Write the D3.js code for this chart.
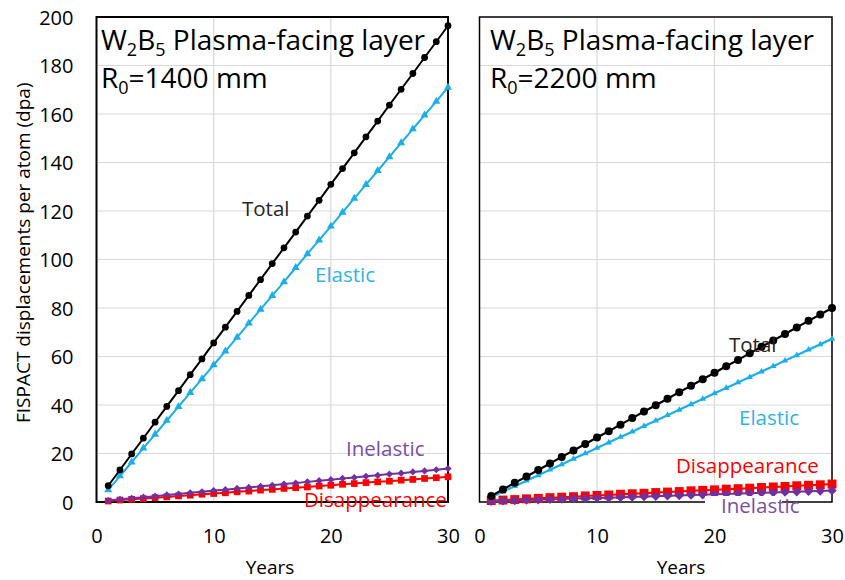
<!DOCTYPE html>
<html>
<head>
<meta charset="utf-8">
<script src="https://cdn.jsdelivr.net/npm/d3@7"></script>
<style>
  html, body { margin: 0; padding: 0; background: #fff; }
  svg { display: block; font-family: "Open Sans", "Noto Sans", sans-serif; }
</style>
</head>
<body>
<svg id="chart" width="845" height="580"></svg>
<script>
// Irradiation years
const years = [1,2,3,4,5,6,7,8,9,10,11,12,13,14,15,16,17,18,19,20,21,22,23,24,25,26,27,28,29,30];

// R0 = 1400 mm, dpa per component
const total1400 = [6.7,13.2,19.8,26.3,32.9,39.4,45.9,52.5,59.0,65.6,72.1,78.6,85.2,91.7,98.3,104.8,111.3,117.9,124.4,131.0,137.5,144.0,150.6,157.1,163.7,170.2,176.7,183.3,189.8,196.4];
const elastic1400 = [5.0,10.7,16.4,22.2,27.9,33.6,39.3,45.1,50.8,56.5,62.2,67.9,73.7,79.4,85.1,90.8,96.6,102.3,108.0,113.7,119.4,125.2,130.9,136.6,142.3,148.1,153.8,159.5,165.2,171.0];
const inelastic1400 = [0.6,1.1,1.5,2.0,2.4,2.9,3.3,3.8,4.2,4.7,5.1,5.6,6.0,6.5,6.9,7.4,7.8,8.3,8.8,9.2,9.7,10.1,10.6,11.0,11.5,11.9,12.4,12.8,13.3,13.8];
const disap1400 = [0.4,0.8,1.1,1.4,1.8,2.1,2.5,2.8,3.2,3.5,3.8,4.2,4.5,4.9,5.2,5.6,5.9,6.2,6.6,6.9,7.3,7.6,8.0,8.3,8.6,9.0,9.3,9.7,10.0,10.4];

// R0 = 2200 mm, dpa per component
const total2200 = [2.5,5.2,7.9,10.5,13.2,15.9,18.6,21.2,23.9,26.6,29.2,31.9,34.6,37.3,39.9,42.6,45.3,47.9,50.6,53.3,56.0,58.6,61.3,64.0,66.6,69.3,72.0,74.7,77.3,80.0];
const elastic2200 = [2.0,4.3,6.5,8.8,11.0,13.3,15.5,17.8,20.0,22.3,24.5,26.8,29.0,31.3,33.5,35.8,38.0,40.3,42.5,44.8,47.0,49.3,51.5,53.8,56.0,58.3,60.5,62.8,65.0,67.3];
const inelastic2200 = [0.3,0.5,0.6,0.8,0.9,1.1,1.2,1.4,1.5,1.7,1.8,2.0,2.1,2.3,2.4,2.6,2.7,2.9,3.0,3.2,3.3,3.5,3.6,3.8,3.9,4.1,4.2,4.4,4.5,4.7];
const disap2200 = [0.6,0.8,1.0,1.3,1.5,1.8,2.0,2.2,2.5,2.7,2.9,3.2,3.4,3.6,3.9,4.1,4.3,4.6,4.8,5.0,5.3,5.5,5.7,6.0,6.2,6.4,6.7,6.9,7.1,7.4];

// Axis ticks
const xTicks = [0,10,20,30];
const yTicks = [0,20,40,60,80,100,120,140,160,180,200];

const svg = d3.select("#chart");
const y = d3.scaleLinear().domain([0, 200]).range([502, 17]);

const C = { total: "#000000", elastic: "#1aaeea", inelastic: "#7030a0", disap: "#ff0000" };

function panel(cfg) {
  const x = d3.scaleLinear().domain([0, 30]).range([cfg.x0, cfg.x1]);
  const g = svg.append("g");

  // gridlines
  g.append("g").selectAll("line").data(yTicks.filter(d => d > 0 && d < 200)).join("line")
    .attr("x1", cfg.x0).attr("x2", cfg.x1).attr("y1", d => y(d)).attr("y2", d => y(d))
    .attr("stroke", "#d9d9d9").attr("stroke-width", 1.2);
  g.append("g").selectAll("line").data(xTicks.filter(d => d > 0 && d < 30)).join("line")
    .attr("y1", y(0)).attr("y2", y(200)).attr("x1", d => x(d)).attr("x2", d => x(d))
    .attr("stroke", "#d9d9d9").attr("stroke-width", 1.2);

  // frame
  g.append("rect").attr("x", cfg.x0).attr("y", y(200))
    .attr("width", cfg.x1 - cfg.x0).attr("height", y(0) - y(200))
    .attr("fill", "none").attr("stroke", "#000").attr("stroke-width", cfg.frame);

  // x axis tick labels
  const xa = d3.axisBottom(x).tickValues(xTicks).tickSize(0).tickPadding(0);
  const xg = g.append("g").attr("transform", `translate(0,${y(0)})`).call(xa);
  xg.select(".domain").remove();
  xg.selectAll("text").attr("dy", null).attr("y", 41)
    .attr("font-size", 20).attr("fill", "#000").attr("font-family", "Open Sans");

  if (cfg.yLabels) {
    const ya = d3.axisLeft(y).tickValues(yTicks).tickSize(0).tickPadding(0);
    const yg = g.append("g").attr("transform", `translate(${cfg.x0 - 23},0)`).call(ya);
    yg.select(".domain").remove();
    yg.selectAll("text").attr("x", 0).attr("dy", "0.36em")
      .attr("font-size", 20).attr("fill", "#000").attr("font-family", "Open Sans");
  }

  const series = [
    { v: cfg.disap, c: C.disap, sym: d3.symbolSquare, size: cfg.sq, rot: 0, w: 2 },
    { v: cfg.inelastic, c: C.inelastic, sym: d3.symbolSquare, size: cfg.dia, rot: 45, w: 2 },
    { v: cfg.elastic, c: C.elastic, sym: d3.symbolTriangle, size: cfg.tri, rot: 0, w: cfg.lw },
    { v: cfg.total, c: C.total, sym: d3.symbolCircle, size: cfg.circ, rot: 0, w: cfg.lw }
  ];
  const line = d3.line().x((d, i) => x(years[i])).y(d => y(d));
  series.forEach(s => {
    g.append("path").datum(s.v).attr("d", line)
      .attr("fill", "none").attr("stroke", s.c).attr("stroke-width", s.w);
    g.append("g").selectAll("path").data(s.v).join("path")
      .attr("d", d3.symbol().type(s.sym).size(s.size))
      .attr("transform", (d, i) => `translate(${x(years[i])},${y(d)}) rotate(${s.rot})`)
      .attr("fill", s.c);
  });

  // title
  const t = g.append("text").attr("x", cfg.tx).attr("y", 50).attr("font-size", 28).attr("fill", "#000");
  t.append("tspan").text("W");
  t.append("tspan").text("2").attr("font-size", 18).attr("dy", 6);
  t.append("tspan").text("B").attr("dy", -6);
  t.append("tspan").text("5").attr("font-size", 18).attr("dy", 6);
  t.append("tspan").text(" Plasma-facing layer").attr("dy", -6);
  const r = g.append("text").attr("x", cfg.tx).attr("y", 88).attr("font-size", 28).attr("fill", "#000");
  r.append("tspan").text("R");
  r.append("tspan").text("0").attr("font-size", 18).attr("dy", 6);
  r.append("tspan").text(cfg.r0).attr("dy", -6);

  // x axis title
  g.append("text").attr("x", cfg.yearsX).attr("y", 574).attr("text-anchor", "middle")
    .attr("font-size", 19).attr("fill", "#000").text("Years");

  // series labels
  (cfg.bg || []).forEach(b => {
    g.append("rect").attr("x", b[0]).attr("y", b[1]).attr("width", b[2]).attr("height", b[3]).attr("fill", "#fff");
  });
  cfg.labels.forEach(l => {
    g.append("text").attr("x", l.x).attr("y", l.y).attr("font-size", 20.5)
      .attr("fill", l.c).text(l.t);
  });
}

panel({
  x0: 96.5, x1: 448, frame: 2, yLabels: true, tx: 101, r0: "=1400 mm", yearsX: 270,
  total: total1400, elastic: elastic1400, inelastic: inelastic1400, disap: disap1400,
  circ: 36, tri: 28, sq: 45, dia: 26, lw: 2,
  labels: [
    { t: "Total", x: 242, y: 216, c: "#262626" },
    { t: "Elastic", x: 315, y: 282, c: "#2eb3ea" },
    { t: "Inelastic", x: 346, y: 456, c: "#7a4fa8" },
    { t: "Disappearance", x: 304, y: 507, c: "#ff0000" }
  ]
});

panel({
  x0: 479.5, x1: 832, frame: 1.5, yLabels: false, tx: 490, r0: "=2200 mm", yearsX: 681,
  total: total2200, elastic: elastic2200, inelastic: inelastic2200, disap: disap2200,
  circ: 50, tri: 18, sq: 80, dia: 45, lw: 2.2,
  bg: [[705, 496, 77, 12]],
  labels: [
    { t: "Total", x: 729, y: 352, c: "#262626" },
    { t: "Elastic", x: 739, y: 425, c: "#2eb3ea" },
    { t: "Disappearance", x: 676, y: 473, c: "#ff0000" },
    { t: "Inelastic", x: 721, y: 513, c: "#7a4fa8" }
  ]
});

// y axis title
svg.append("text").attr("transform", "translate(30,423) rotate(-90)")
  .attr("font-size", 19).attr("fill", "#000")
  .text("FISPACT displacements per atom (dpa)");
</script>
</body>
</html>
